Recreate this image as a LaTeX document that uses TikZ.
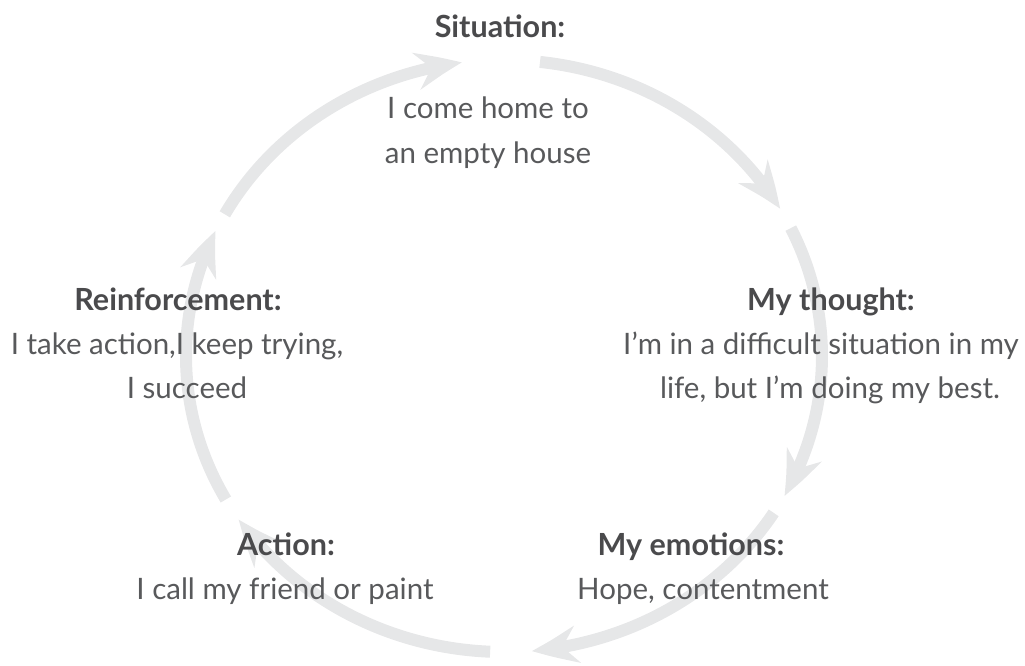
\documentclass[tikz,border=0pt]{standalone}
\usepackage{fontspec}
\setmainfont{Lato}
\usetikzlibrary{arrows.meta,bending}
\definecolor{arrowgray}{HTML}{E6E7E8}
\definecolor{textgray}{HTML}{58595B}
\definecolor{headgray}{HTML}{4A4A4C}
\tikzset{
  cyc/.style={line width=12pt, draw=arrowgray,
    -{Stealth[length=46pt,width=37pt,inset=15pt,bend]}},
  head/.style={font=\fontsize{30.5}{36}\selectfont\bfseries, text=headgray, inner sep=0pt, anchor=base},
  body/.style={font=\fontsize{29.5}{36}\selectfont, text=textgray, inner sep=0pt, anchor=base},
}
\begin{document}
\begin{tikzpicture}[x=1pt,y=1pt]
\useasboundingbox (0,0) rectangle (1025,-666);
\coordinate (c) at (504,-356);
% cycle arrows
\draw[cyc] (c) ++(151.4:318 and 296) arc[start angle=151.4, end angle=97.6, x radius=318, y radius=296];
\draw[cyc] (c) ++(83.5:318 and 296) arc[start angle=83.5, end angle=29.8, x radius=318, y radius=296];
\draw[cyc] (c) ++(25.6:318 and 296) arc[start angle=25.6, end angle=-28.2, x radius=318, y radius=296];
\draw[cyc] (c) ++(-32:318 and 296) arc[start angle=-32, end angle=-85, x radius=318, y radius=296];
\draw[cyc] (c) ++(-92.5:318 and 296) arc[start angle=-92.5, end angle=-146.5, x radius=318, y radius=296];
\draw[cyc] (c) ++(-151:318 and 296) arc[start angle=-151, end angle=-205, x radius=318, y radius=296];
% texts
\node[head] (sith) at (500,-38) {Situation:};
\node[body] (sit1) at (488,-119) {I come home to};
\node[body] (sit2) at (488,-164) {an empty house};
\node[head] (reih) at (178,-310) {Reinforcement:};
\node[body] (rei1) at (177,-354) {I take action,I keep trying,};
\node[body] (rei2) at (187,-398) {I succeed};
\node[head] (thoh) at (831,-310) {My thought:};
\node[body] (tho1) at (821,-354) {I’m in a difficult situation in my};
\node[body] (tho2) at (830,-398) {life, but I’m doing my best.};
\node[head] (acth) at (286,-555) {Action:};
\node[body] (act1) at (285,-599) {I call my friend or paint};
\node[head] (emoh) at (691,-555) {My emotions:};
\node[body] (emo1) at (703,-599) {Hope, contentment};
\end{tikzpicture}
\end{document}
